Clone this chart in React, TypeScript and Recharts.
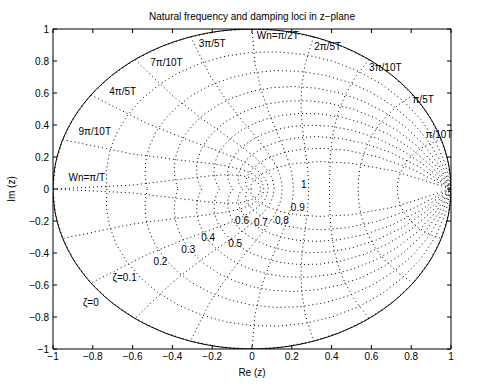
import React from "react";
import {
  ComposedChart, Line, XAxis, YAxis, ReferenceDot,
} from "recharts";

// damping ratios and natural frequencies (in units of pi/(10T)) of the grid
const ZETAS = [0, 0.1, 0.2, 0.3, 0.4, 0.5, 0.6, 0.7, 0.8, 0.9];
const WN_STEPS = [1, 2, 3, 4, 5, 6, 7, 8, 9, 10];
const TICKS = [-1, -0.8, -0.6, -0.4, -0.2, 0, 0.2, 0.4, 0.6, 0.8, 1];

const ZETA_LABELS = ["ζ=0", "ζ=0.1", "0.2", "0.3", "0.4", "0.5", "0.6", "0.7", "0.8", "0.9", "1"];
const ZETA_LABEL_X = [-0.81, -0.64, -0.46, -0.32, -0.22, -0.085, -0.05, 0.045, 0.15, 0.23, 0.26];
const ZETA_LABEL_Y = [-0.71, -0.555, -0.455, -0.38, -0.3, -0.34, -0.195, -0.21, -0.195, -0.115, 0.03];

const WN_LABELS = ["Wn=π/T", "9π/10T", "4π/5T", "7π/10T", "3π/5T", "Wn=π/2T", "2π/5T", "3π/10T", "π/5T", "π/10T"];
const WN_LABEL_X = [-0.83, -0.79, -0.65, -0.43, -0.2, 0.13, 0.38, 0.67, 0.86, 0.94];
const WN_LABEL_Y = [0.075, 0.36, 0.61, 0.79, 0.91, 0.96, 0.89, 0.76, 0.56, 0.34];

const FONT = "'Liberation Sans', Arial, sans-serif";

type P = { x: number; y: number };

// z = exp(s) for s = re + j*im
const expZ = (re: number, im: number): P => {
  const r = Math.exp(re);
  return { x: r * Math.cos(im), y: r * Math.sin(im) };
};

// constant damping: s = w(-m + j), w = 0..pi in pi/20 steps, mirrored
function dampingLocus(zeta: number): P[] {
  const m = zeta / Math.sqrt(1 - zeta * zeta);
  const upper: P[] = [];
  for (let k = 0; k <= 20; k++) {
    const w = (Math.PI * k) / 20;
    upper.push(expZ(-m * w, w));
  }
  const lower = upper.slice(1).reverse().map((p) => ({ x: p.x, y: -p.y }));
  return [...lower, ...upper];
}

// constant natural frequency: s = wn*e^(j*theta), theta = pi/2..pi, mirrored
function freqLocus(step: number): P[] {
  const wn = (Math.PI * step) / 10;
  const upper: P[] = [];
  for (let k = 0; k <= 10; k++) {
    const th = Math.PI / 2 + (Math.PI * k) / 20;
    upper.push(expZ(wn * Math.cos(th), wn * Math.sin(th)));
  }
  const lower = upper.slice(0, -1).reverse().map((p) => ({ x: p.x, y: -p.y }));
  return [...upper, ...lower];
}

function unitCircle(): P[] {
  const pts: P[] = [];
  for (let i = 0; i <= 200; i++) pts.push(expZ(0, (Math.PI * i) / 100));
  return pts;
}

const fmt = (v: number) => String(v).replace("-", "\u2212");
const tickStyle = { fill: "#000", fontSize: 10, fontFamily: FONT };

export default function App() {
  return (
    <div style={{ position: "absolute", left: 0, top: 0, width: 489, height: 392, background: "#fff" }}>
      <ComposedChart width={489} height={392} margin={{ top: 28, right: 37, bottom: 42, left: 52 }}>
        <XAxis xAxisId="b" type="number" dataKey="x" domain={[-1, 1]} ticks={TICKS} height={1}
          allowDataOverflow tickSize={-4} tickMargin={8} tickFormatter={fmt}
          stroke="#000" tick={tickStyle} />
        <XAxis xAxisId="t" orientation="top" type="number" dataKey="x" domain={[-1, 1]} ticks={TICKS} height={1}
          allowDataOverflow tickSize={-4} tickFormatter={() => ""} stroke="#000" />
        <YAxis yAxisId="l" type="number" dataKey="y" domain={[-1, 1]} ticks={TICKS} width={1}
          allowDataOverflow tickSize={-4} tickMargin={8} tickFormatter={fmt}
          stroke="#000" tick={tickStyle} />
        <YAxis yAxisId="r" orientation="right" type="number" dataKey="y" domain={[-1, 1]} ticks={TICKS} width={1}
          allowDataOverflow tickSize={-4} tickFormatter={() => ""} stroke="#000" />

        {ZETAS.map((z) => (
          <Line key={"z" + z} xAxisId="b" yAxisId="l" data={dampingLocus(z)} dataKey="y" type="linear"
            dot={false} activeDot={false} stroke="#000" strokeWidth={1} strokeDasharray="1 3"
            isAnimationActive={false} />
        ))}
        {WN_STEPS.map((s) => (
          <Line key={"w" + s} xAxisId="b" yAxisId="l" data={freqLocus(s)} dataKey="y" type="linear"
            dot={false} activeDot={false} stroke="#000" strokeWidth={1} strokeDasharray="1 3"
            isAnimationActive={false} />
        ))}
        <Line xAxisId="b" yAxisId="l" data={unitCircle()} dataKey="y" type="linear"
          dot={false} activeDot={false} stroke="#000" strokeWidth={1} isAnimationActive={false} />

        {ZETA_LABELS.map((t, i) => (
          <ReferenceDot key={"zl" + i} xAxisId="b" yAxisId="l" x={ZETA_LABEL_X[i]} y={ZETA_LABEL_Y[i]} r={0}
            fill="none" stroke="none"
            label={{ value: t, position: "center", fill: "#000", fontSize: 10, fontFamily: FONT }} />
        ))}
        {WN_LABELS.map((t, i) => (
          <ReferenceDot key={"wl" + i} xAxisId="b" yAxisId="l" x={WN_LABEL_X[i]} y={WN_LABEL_Y[i]} r={0}
            fill="none" stroke="none"
            label={{ value: t, position: "center", fill: "#000", fontSize: 10, fontFamily: FONT }} />
        ))}
      </ComposedChart>
      <svg width={489} height={392} style={{ position: "absolute", left: 0, top: 0, pointerEvents: "none" }}>
        <text x={252} y={20} textAnchor="middle" fontSize={10} fontFamily={FONT} fill="#000">
          Natural frequency and damping loci in z−plane
        </text>
        <text x={252} y={376} textAnchor="middle" fontSize={10} fontFamily={FONT} fill="#000">
          Re (z)
        </text>
        <text x={15} y={189} textAnchor="middle" fontSize={10} fontFamily={FONT} fill="#000"
          transform="rotate(-90 15 189)">
          Im (z)
        </text>
      </svg>
    </div>
  );
}
